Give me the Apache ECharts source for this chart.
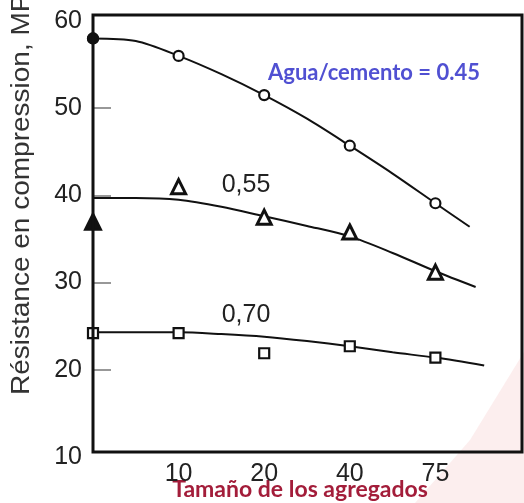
<!DOCTYPE html>
<html>
<head>
<meta charset="utf-8">
<script src="https://cdn.jsdelivr.net/npm/echarts@6/dist/echarts.min.js"></script>
<style>
  html, body { margin: 0; padding: 0; background: #fff; }
  #chart { width: 524px; height: 503px; }
</style>
</head>
<body>
<div id="chart"></div>
<script>
// tamaño del agregado (posiciones 1..4 en el eje)
const xLabels = ["10", "20", "40", "75"];
const yTickValues = [20, 30, 40, 50];

// puntos medidos
const pts045 = [[0, 58.0], [1, 56.0], [2, 51.5], [3, 45.7], [4, 39.1]];
const pts055 = [[1, 41.0], [2, 37.5], [3, 35.8], [4, 31.2]];
const pts055Solid = [[0, 37.0]];
const pts070 = [[0, 24.2], [1, 24.2], [2, 21.9], [3, 22.7], [4, 21.4]];

// curvas ajustadas
const curve045 = [[0, 58.0], [0.5, 57.7], [1, 56.0], [1.5, 53.9], [2, 51.5], [2.5, 48.8], [3, 45.7], [3.5, 42.5], [4, 39.1], [4.4, 36.4]];
const curve055 = [[0, 39.7], [0.5, 39.7], [1, 39.5], [1.5, 38.7], [2, 37.6], [2.5, 36.5], [3, 35.3], [3.5, 33.4], [4, 31.3], [4.47, 29.5]];
const curve070 = [[0, 24.3], [1, 24.3], [1.5, 24.1], [2, 23.8], [2.5, 23.3], [3, 22.7], [3.5, 22.0], [4, 21.4], [4.57, 20.5]];

var myChart = echarts.init(document.getElementById("chart"));

function curve(data) {
  return {
    type: "line",
    data: data,
    smooth: 0.3,
    symbol: "none",
    lineStyle: { color: "#111", width: 2 },
    z: 2,
  };
}
function marks(data, symbol, size, filled, bw) {
  return {
    type: "scatter",
    data: data,
    symbol: symbol,
    symbolSize: size,
    clip: false,
    itemStyle: {
      color: filled ? "#111" : "#fff",
      borderColor: "#111",
      borderWidth: bw || 2.2,
      opacity: 1,
    },
    z: 3,
  };
}

var option = {
  animation: false,
  backgroundColor: "#fff",
  grid: { left: 93, right: 2, top: 21, bottom: 46 },
  xAxis: {
    type: "value",
    min: 0,
    max: 5,
    interval: 1,
    axisLine: { show: false },
    axisTick: { show: false },
    splitLine: { show: false },
    axisLabel: {
      margin: 5,
      color: "#222",
      fontSize: 25,
      fontFamily: "Liberation Sans",
      formatter: function (v) {
        return xLabels[v - 1] || "";
      },
    },
  },
  yAxis: {
    type: "value",
    min: 10,
    max: 60,
    interval: 10,
    axisLine: { show: false },
    splitLine: { show: false },
    axisTick: {
      show: true,
      inside: true,
      length: 18,
      customValues: yTickValues,
      lineStyle: { color: "#777", width: 1.5 },
    },
    axisLabel: {
      margin: 11,
      color: "#222",
      fontSize: 25,
      fontFamily: "Liberation Sans",
    },
  },
  series: [
    curve(curve045),
    curve(curve055),
    curve(curve070),
    marks(pts045, "circle", 10, false),
    marks([[0, 58.0]], "circle", 10, true),
    marks(pts055, "triangle", 14, false, 3),
    marks(pts055Solid, "triangle", 16, true),
    marks(pts070, "rect", 10, false),
  ],
  graphic: [
    {
      type: "polygon",
      z: -10,
      silent: true,
      shape: { points: [[524, 352], [524, 503], [415, 503], [470, 440]] },
      style: { fill: "rgba(240,160,160,0.18)" },
    },
    {
      type: "rect",
      z: 10,
      silent: true,
      shape: { x: 93, y: 15, width: 429, height: 437 },
      style: { fill: "none", stroke: "#111", lineWidth: 3 },
    },
    {
      type: "text",
      x: 22,
      y: 395,
      rotation: Math.PI / 2,
      scaleX: 1.12,
      style: {
        text: "Résistance en compression, MPa",
        font: "25px 'Liberation Sans'",
        fill: "#333",
        textAlign: "left",
        textVerticalAlign: "middle",
      },
    },
    {
      type: "text",
      x: 374,
      y: 73,
      style: {
        text: "Agua/cemento = 0.45",
        font: "bold 22px Lato",
        fill: "#5050d2",
        textAlign: "center",
        textVerticalAlign: "middle",
      },
    },
    {
      type: "text",
      x: 246,
      y: 185,
      style: {
        text: "0,55",
        font: "25px 'Liberation Sans'",
        fill: "#222",
        textAlign: "center",
        textVerticalAlign: "middle",
      },
    },
    {
      type: "text",
      x: 246,
      y: 315,
      style: {
        text: "0,70",
        font: "25px 'Liberation Sans'",
        fill: "#222",
        textAlign: "center",
        textVerticalAlign: "middle",
      },
    },
    {
      type: "text",
      x: 300,
      y: 490,
      style: {
        text: "Tamaño de los agregados",
        font: "bold 23px Lato",
        fill: "#a31d3a",
        textAlign: "center",
        textVerticalAlign: "middle",
      },
    },
  ],
};
myChart.setOption(option);
</script>
</body>
</html>
